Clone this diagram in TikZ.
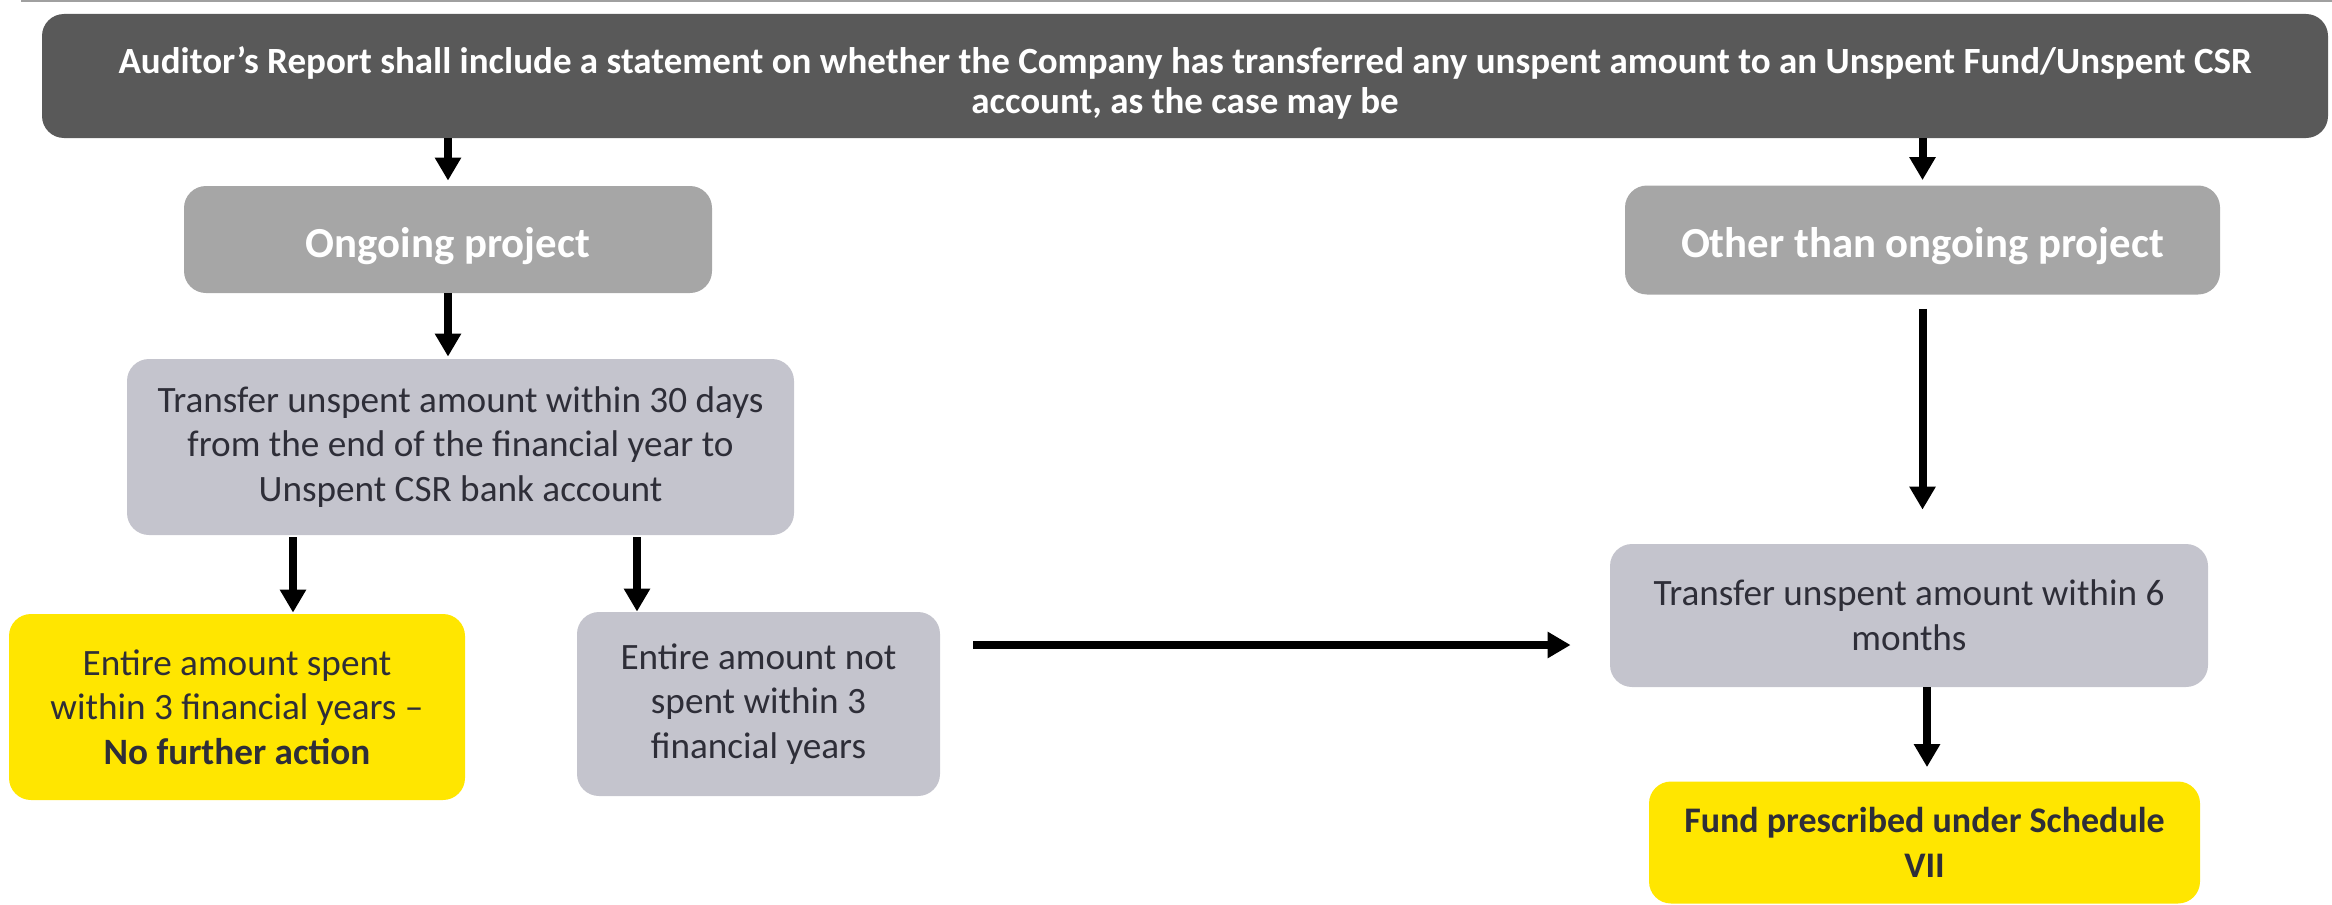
\documentclass[tikz,border=0pt]{standalone}
\usepackage{fontspec}
\setmainfont{Carlito}
\usetikzlibrary{arrows.meta}
\definecolor{darkbar}{HTML}{595959}
\definecolor{midgray}{HTML}{A6A6A6}
\definecolor{lightbox}{HTML}{C4C4CD}
\definecolor{eyyellow}{HTML}{FFE600}
\definecolor{eytext}{HTML}{2E2E38}
\definecolor{topline}{HTML}{A0A0A0}
\tikzset{
  box/.style={rounded corners=11pt, inner sep=0pt, align=center, anchor=center},
  darkbox/.style={box, fill=darkbar, text=white, font=\fontsize{18.5}{20}\selectfont\bfseries},
  headbox/.style={box, fill=midgray, text=white, font=\fontsize{21.4}{24}\selectfont\bfseries},
  greybox/.style={box, fill=lightbox, text=eytext, font=\fontsize{18.6}{22.3}\selectfont},
  yellowbox/.style={box, fill=eyyellow, text=eytext, font=\fontsize{18.6}{22.3}\selectfont},
  arr/.style={line width=4pt, -{Triangle[length=11.5pt,width=12.5pt]}},
}
\begin{document}
\begin{tikzpicture}[x=0.5pt,y=-0.5pt]
\useasboundingbox (0,0) rectangle (2332,904);
\draw[topline, line width=1.2pt] (21,1) -- (2332,1);
\node[darkbox, minimum width=1143pt, minimum height=62pt] (top) at (1185,76) {};
\node[darkbox, fill=none] (toptext) at (1185,83)
  {Auditor’s Report shall include a statement on whether the Company has transferred any unspent amount to an Unspent Fund/Unspent CSR\\ account, as the case may be};
\node[headbox, minimum width=264pt, minimum height=53.5pt] (ongoing) at (448,239.5) {};
\node[headbox, fill=none] (ongoingtext) at (448,246) {Ongoing project};
\node[headbox, minimum width=297.5pt, minimum height=54.5pt] (other) at (1922.5,240) {};
\node[headbox, fill=none] (othertext) at (1922.5,246) {Other than ongoing project};
\node[greybox, minimum width=333.5pt, minimum height=88pt] (t30) at (460.5,447)
  {Transfer unspent amount within 30 days\\ from the end of the financial year to\\ Unspent CSR bank account};
\node[yellowbox, minimum width=228pt, minimum height=93pt] (spent) at (237,707)
  {Entire amount spent\\ within 3 financial years --\\ \textbf{No further action}};
\node[greybox, minimum width=181.5pt, minimum height=92pt] (notspent) at (758.5,704)
  {Entire amount not\\ spent within 3\\ financial years};
\node[greybox, minimum width=299pt, minimum height=71.5pt] (six) at (1909,615.5)
  {Transfer unspent amount within 6\\ months};
\node[yellowbox, minimum width=275.5pt, minimum height=61pt, font=\fontsize{18}{22.3}\selectfont] (fund) at (1924.5,842.5)
  {\textbf{Fund prescribed under Schedule}\\ \textbf{VII}};
\coordinate (hy) at (0,645);
% connectors
\draw[arr, shorten >=2.5pt] (top.south -| ongoing.north) -- (ongoing.north);
\draw[arr, shorten >=2.5pt] (top.south -| other.north) -- (other.north);
\draw[arr, shorten >=1pt] (ongoing.south) -- (ongoing.south |- t30.north);
\draw[arr, shorten <=1pt, shorten >=0.5pt] ([xshift=-83.75pt]t30.south) -- ([xshift=-83.75pt]t30.south |- spent.north);
\draw[arr, shorten <=1pt, shorten >=0pt] ([xshift=88.25pt]t30.south) -- ([xshift=88.25pt]t30.south |- notspent.north);
\draw[arr, shorten <=16.5pt, shorten >=19.5pt] (notspent.east |- hy) -- (six.west |- hy);
\draw[arr, shorten <=7pt, shorten >=17pt] (other.south) -- (other.south |- six.north);
\draw[arr, shorten >=7pt] ([xshift=9pt]six.south) -- ([xshift=9pt]six.south |- fund.north);
\end{tikzpicture}
\end{document}
